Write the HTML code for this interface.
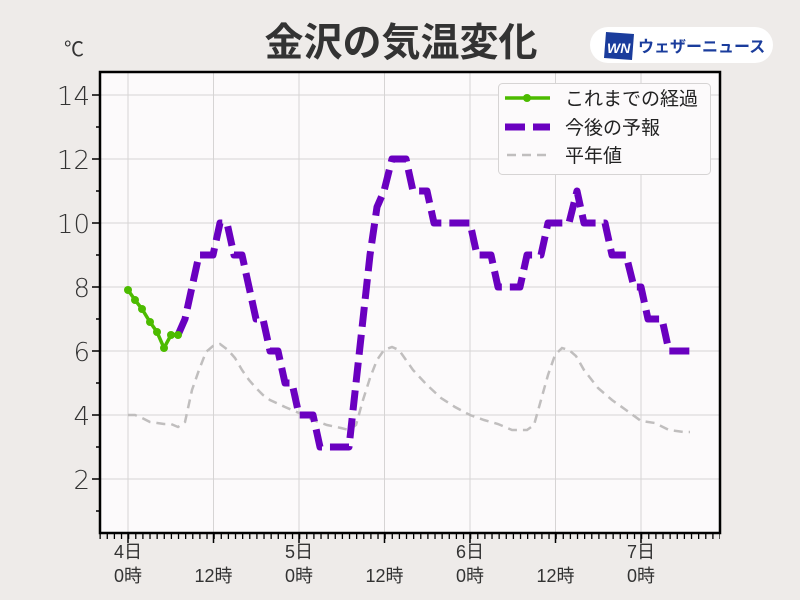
<!DOCTYPE html>
<html><head><meta charset="utf-8"><style>
html,body{margin:0;padding:0;background:#eeebe9;}
svg{display:block;font-family:"Liberation Sans","Noto Sans CJK JP",sans-serif;}
</style></head><body>
<svg width="800" height="600" viewBox="0 0 800 600" xmlns="http://www.w3.org/2000/svg">
<rect width="800" height="600" fill="#eeebe9"/>
<text x="401" y="56" text-anchor="middle" font-size="39" font-weight="bold" fill="#333">金沢の気温変化</text>
<text x="64" y="56" font-size="20" fill="#333">℃</text>
<!-- logo -->
<rect x="590" y="27" width="183" height="36" rx="18" fill="#fff"/>
<polygon points="606,32 634,34 632,60 604,58" fill="#1a3c9c"/>
<text x="607" y="53" font-size="14" font-weight="bold" font-style="italic" fill="#fff">WN</text>
<text x="638" y="52" font-size="16" font-weight="bold" fill="#1a3c9c">ウェザーニュース</text>
<!-- plot -->
<rect x="100" y="72" width="620" height="461" fill="#fcfafb"/>
<g stroke="#d6d4d4" stroke-width="1">
<line x1="100" x2="720" y1="95" y2="95"/><line x1="100" x2="720" y1="159" y2="159"/>
<line x1="100" x2="720" y1="223" y2="223"/><line x1="100" x2="720" y1="287" y2="287"/>
<line x1="100" x2="720" y1="351" y2="351"/><line x1="100" x2="720" y1="415" y2="415"/>
<line x1="100" x2="720" y1="479" y2="479"/>
<line x1="128" x2="128" y1="72" y2="533"/><line x1="213.5" x2="213.5" y1="72" y2="533"/>
<line x1="299" x2="299" y1="72" y2="533"/><line x1="384.5" x2="384.5" y1="72" y2="533"/>
<line x1="470" x2="470" y1="72" y2="533"/><line x1="555.5" x2="555.5" y1="72" y2="533"/>
<line x1="641" x2="641" y1="72" y2="533"/>
</g>
<!-- normals -->
<polyline fill="none" stroke="#c0bebe" stroke-width="2.5" stroke-dasharray="9,6" points="128,415 135,415 142,418 150,422 164,424 171,424 178,427 185,422 192,390 199,370 206,352 213,346 220,344 228,350 235,358 242,370 249,380 256,388 263,395 270,400 285,407 299,413 313,420 327,425 341,428 349,430 356,425 363,400 370,378 377,360 384,350 392,347 399,350 406,360 413,370 427,385 441,398 455,407 470,415 484,420 498,424 512,430 527,430 534,425 541,400 548,375 555,355 562,348 569,350 576,356 584,370 598,388 612,400 626,410 641,421 655,423 669,430 684,432 690,432"/>
<!-- forecast -->
<polyline fill="none" stroke="#6a00c0" stroke-width="7" stroke-dasharray="20,8" stroke-linejoin="round" points="178,335 185,319 192,287 199,255 206,255 213,255 220,223 227,223 234,255 242,255 249,287 256,319 263,319 270,351 278,351 285,383 292,383 299,415 306,415 313,415 320,447 327,447 334,447 341,447 349,447 356,383 363,319 370,255 377,207 384,191 392,159 399,159 406,159 413,191 420,191 427,191 434,223 441,223 448,223 455,223 463,223 470,223 477,255 484,255 491,255 498,287 505,287 512,287 520,287 527,255 534,255 541,255 548,223 555,223 562,223 569,223 577,191 584,223 591,223 598,223 605,223 612,255 619,255 626,255 634,287 641,287 648,319 655,319 662,319 669,351 676,351 683,351 690,351"/>
<!-- observed -->
<polyline fill="none" stroke="#4cbb00" stroke-width="3.5" points="128,290 135,300 142,309 150,322 157,332 164,348 171,335 178,335"/>
<g fill="#4cbb00"><circle cx="128" cy="290" r="4"/><circle cx="135" cy="300" r="4"/><circle cx="142" cy="309" r="4"/><circle cx="150" cy="322" r="4"/><circle cx="157" cy="332" r="4"/><circle cx="164" cy="348" r="4"/><circle cx="171" cy="335" r="4"/><circle cx="178" cy="335" r="4"/></g>
<!-- frame -->
<rect x="100" y="72" width="620" height="461" fill="none" stroke="#000" stroke-width="2.5"/>
<g stroke="#000" stroke-width="1.5">
<line x1="92" x2="100" y1="95" y2="95"/><line x1="92" x2="100" y1="159" y2="159"/><line x1="92" x2="100" y1="223" y2="223"/><line x1="92" x2="100" y1="287" y2="287"/><line x1="92" x2="100" y1="351" y2="351"/><line x1="92" x2="100" y1="415" y2="415"/><line x1="92" x2="100" y1="479" y2="479"/>
<line x1="96" x2="100" y1="127" y2="127"/><line x1="96" x2="100" y1="191" y2="191"/><line x1="96" x2="100" y1="255" y2="255"/><line x1="96" x2="100" y1="319" y2="319"/><line x1="96" x2="100" y1="383" y2="383"/><line x1="96" x2="100" y1="447" y2="447"/><line x1="96" x2="100" y1="511" y2="511"/>
<line x1="99.5" x2="720" y1="536.5" y2="536.5" stroke-width="5" stroke-dasharray="1.3,5.825"/>
<line x1="128" x2="128" y1="533" y2="543"/><line x1="213.5" x2="213.5" y1="533" y2="543"/><line x1="299" x2="299" y1="533" y2="543"/><line x1="384.5" x2="384.5" y1="533" y2="543"/><line x1="470" x2="470" y1="533" y2="543"/><line x1="555.5" x2="555.5" y1="533" y2="543"/><line x1="641" x2="641" y1="533" y2="543"/>
</g>
<g font-size="26" fill="#333" text-anchor="end" font-family="'DejaVu Sans',sans-serif" font-weight="300">
<text x="90" y="105">14</text><text x="90" y="169">12</text><text x="90" y="233">10</text><text x="90" y="297">8</text><text x="90" y="361">6</text><text x="90" y="425">4</text><text x="90" y="489">2</text>
</g>
<g font-size="18" fill="#333" text-anchor="middle">
<text x="128" y="558">4日</text><text x="128" y="582">0時</text>
<text x="213.5" y="582">12時</text>
<text x="299" y="558">5日</text><text x="299" y="582">0時</text>
<text x="384.5" y="582">12時</text>
<text x="470" y="558">6日</text><text x="470" y="582">0時</text>
<text x="555.5" y="582">12時</text>
<text x="641" y="558">7日</text><text x="641" y="582">0時</text>
</g>
<!-- legend -->
<rect x="498.5" y="83.5" width="212" height="91" rx="4" fill="#fcfafb" stroke="#d6d4d4"/>
<line x1="505" x2="550" y1="98" y2="98" stroke="#4cbb00" stroke-width="3.5"/><circle cx="527" cy="98" r="4" fill="#4cbb00"/>
<line x1="505" x2="550" y1="127" y2="127" stroke="#6a00c0" stroke-width="7" stroke-dasharray="20,8"/>
<line x1="507" x2="550" y1="155" y2="155" stroke="#c0bebe" stroke-width="2.5" stroke-dasharray="9,6"/>
<g font-size="19" fill="#222">
<text x="565" y="105">これまでの経過</text><text x="565" y="134">今後の予報</text><text x="565" y="162">平年値</text>
</g>
</svg>
</body></html>
